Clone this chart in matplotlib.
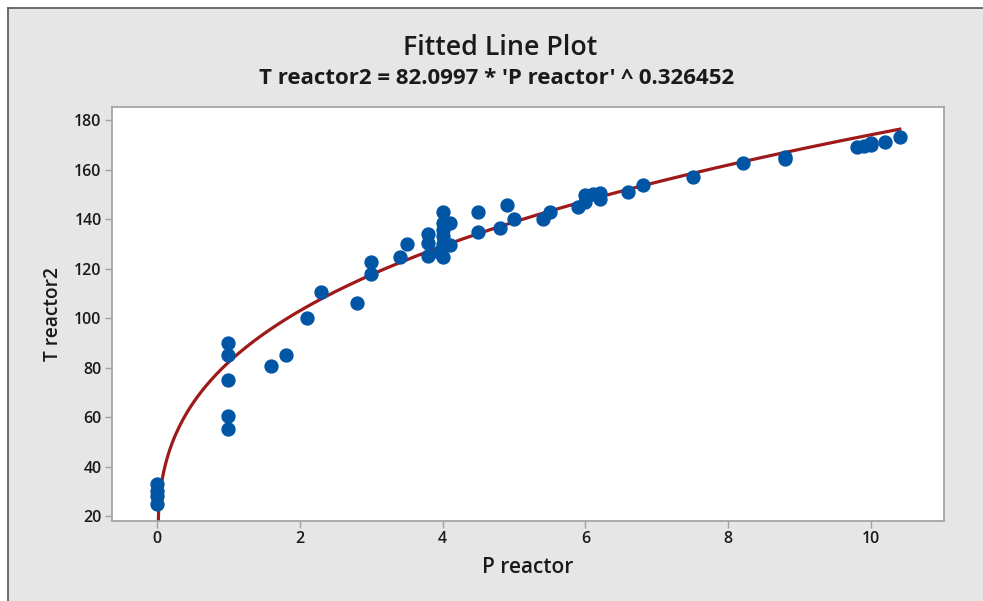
import matplotlib
matplotlib.use("Agg")
import matplotlib.pyplot as plt
import numpy as np
from matplotlib.patches import Rectangle
from matplotlib.lines import Line2D

plt.rcParams['font.family'] = ['Open Sans', 'DejaVu Sans']

p_reactor = [0, 0, 0, 0,
             1, 1, 1, 1, 1,
             1.6, 1.8, 2.1, 2.3, 2.8, 3.0, 3.0, 3.4, 3.5,
             3.8, 3.8, 3.8, 3.95,
             4.0, 4.0, 4.0, 4.0, 4.0, 4.0, 4.1, 4.1,
             4.5, 4.5, 4.8, 4.9, 5.0, 5.4, 5.5, 5.9,
             6.0, 6.0, 6.1, 6.2, 6.2, 6.6, 6.8, 7.5, 8.2, 8.8, 8.8,
             9.8, 9.9, 10.0, 10.0, 10.2, 10.4]
t_reactor2 = [25, 28, 30, 33,
              55, 60.5, 75, 85, 90,
              80.5, 85, 100, 110.5, 106, 122.5, 118, 124.6, 130,
              134, 130.3, 125, 126.7,
              143, 138.4, 135.5, 133, 130, 124.6, 138.4, 129.5,
              143, 134.7, 136.4, 145.6, 140, 140, 143, 145,
              149.7, 147, 150, 150.5, 148, 150.8, 153.7, 157, 162.6, 164.2, 165,
              169, 169.5, 170, 170.8, 171, 173]

# fitted model shown in the subtitle
coef_a = 82.0997
coef_b = 0.326452

fig = plt.figure(figsize=(9.83, 6.01), dpi=100)
fig.patch.set_facecolor('white')
# gray panel with dark border on top/left
fig.patches.append(Rectangle((8 / 983, 0), 1, 1 - 8 / 601, transform=fig.transFigure,
                             facecolor='#E6E6E6', edgecolor='none', zorder=-10))
fig.lines.append(Line2D([8 / 983, 1], [1 - 8 / 601, 1 - 8 / 601], transform=fig.transFigure,
                        color='#555555', lw=1.2, zorder=-5))
fig.lines.append(Line2D([8 / 983, 8 / 983], [0, 1 - 8 / 601], transform=fig.transFigure,
                        color='#555555', lw=1.2, zorder=-5))

ax = fig.add_axes([112 / 983, 80 / 601, 832 / 983, 414 / 601])
ax.set_facecolor('white')

xs = np.linspace(0, max(p_reactor), 400)
ax.plot(xs, coef_a * xs ** coef_b, color='#9E1A1A', lw=2.3, zorder=2)
ax.plot(p_reactor, t_reactor2, 'o', color='#0055A5', markersize=9.3, zorder=3)

ax.set_xlim(-0.63, 11.02)
ax.set_ylim(18, 185.3)
ax.set_xticks([0, 2, 4, 6, 8, 10])
ax.set_yticks(range(20, 181, 20))
for s in ax.spines.values():
    s.set_color('#A0A0A0')
    s.set_linewidth(1.2)
ax.tick_params(colors='#A0A0A0', labelcolor='#1A1A1A', length=5, width=1, labelsize=11.5, pad=2.5)
for lab in ax.get_xticklabels() + ax.get_yticklabels():
    lab.set_fontweight('semibold')

ax.set_xlabel('P reactor', fontsize=15, fontweight='semibold', color='#1A1A1A', labelpad=7)
ax.set_ylabel('T reactor2', fontsize=13.8, fontweight='semibold', color='#1A1A1A', labelpad=8)

fig.text(500 / 983, 1 - 48 / 601, 'Fitted Line Plot', ha='center', va='center',
         fontsize=19.3, fontweight='semibold', color='#1A1A1A')
fig.text(497 / 983, 1 - 78 / 601, "T reactor2 = 82.0997 * 'P reactor' ^ 0.326452",
         ha='center', va='center', fontsize=16, fontweight='bold', color='#1A1A1A')

fig.savefig('out.png', dpi=100)
